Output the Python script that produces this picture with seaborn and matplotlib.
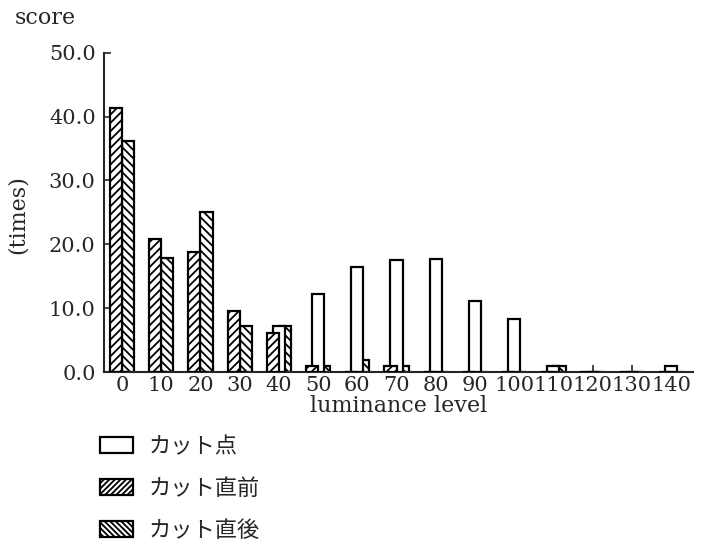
import matplotlib
matplotlib.use('Agg')
import matplotlib.pyplot as plt
from matplotlib.patches import Patch
import pandas as pd
import seaborn as sns

# luminance level categories
levels = ['0', '10', '20', '30', '40', '50', '60', '70',
          '80', '90', '100', '110', '120', '130', '140']
# scores (times)
cut_point = [0, 0, 0, 0, 7.2, 12.2, 16.5, 17.6, 17.7, 11.1, 8.3, 1.0, 0, 0, 1.0]
just_before = [41.3, 20.9, 18.8, 9.6, 6.1, 0.9, 0, 0.9, 0, 0, 0, 0, 0, 0, 0]
just_after = [36.1, 17.8, 25.1, 7.2, 7.2, 0.9, 1.9, 0.9, 0, 0, 0, 1.0, 0, 0, 0]
names = ['カット点', 'カット直前', 'カット直後']
y_ticks = [0, 10, 20, 30, 40, 50]

sns.set_style('ticks')
plt.rcParams['font.family'] = ['DejaVu Serif', 'Noto Sans CJK JP']
plt.rcParams['hatch.linewidth'] = 1.3
plt.rcParams['axes.unicode_minus'] = False

fig = plt.figure(figsize=(7.09, 5.59), dpi=100)
ax = fig.add_axes([104 / 709, 1 - 372 / 559, 589 / 709, (372 - 52.7) / 559])

# 直前 / 直後 side by side
df = pd.DataFrame({
    'level': levels * 2,
    'score': just_before + just_after,
    'type': [names[1]] * len(levels) + [names[2]] * len(levels),
})
sns.barplot(data=df, x='level', y='score', hue='type', order=levels,
            hue_order=[names[1], names[2]], palette=['white', 'white'],
            saturation=1, width=0.62, edgecolor='black', linewidth=1.6,
            errorbar=None, legend=False, ax=ax)
# カット点 in the middle
sns.barplot(x=levels, y=cut_point, order=levels, color='white', saturation=1,
            width=0.31, edgecolor='black', linewidth=1.6, errorbar=None, ax=ax)

hatches = ['////', '\\\\\\\\', None]
zorders = [4, 2, 3]
for cont, h, z in zip(ax.containers, hatches, zorders):
    for p in cont.patches:
        if h:
            p.set_hatch(h)
        p.set_zorder(z)

ax.set_xlim(-0.46, 14.56)
ax.set_ylim(0, 50)
ax.set_yticks(y_ticks)
ax.set_yticklabels([f'{v:.1f}' for v in y_ticks])
ax.set_ylabel('')
ax.set_xlabel('luminance level', fontsize=16, labelpad=0)
sns.despine(ax=ax)
for s in ['left', 'bottom']:
    ax.spines[s].set_linewidth(1.5)
ax.tick_params(direction='in', length=5, width=1.2, labelsize=15)
ax.tick_params(axis='x', pad=3)
ax.tick_params(axis='y', pad=6)

fig.text(15 / 709, 1 - 18 / 559, 'score', fontsize=16, ha='left', va='center')
fig.text(18 / 709, 1 - 215 / 559, '(times)', fontsize=16, rotation=90,
         ha='center', va='center')

handles = [Patch(facecolor='white', edgecolor='black', linewidth=1.6),
           Patch(facecolor='white', edgecolor='black', linewidth=1.6, hatch='//////'),
           Patch(facecolor='white', edgecolor='black', linewidth=1.6, hatch='\\\\\\\\\\\\')]
fig.legend(handles, names, loc='upper left', bbox_to_anchor=(80 / 709, 1 - 415 / 559),
           frameon=False, prop={'family': 'Noto Sans CJK JP', 'size': 16},
           handlelength=1.5, handleheight=0.7, labelspacing=0.85, handletextpad=0.7)

fig.savefig('out.png', dpi=100)
